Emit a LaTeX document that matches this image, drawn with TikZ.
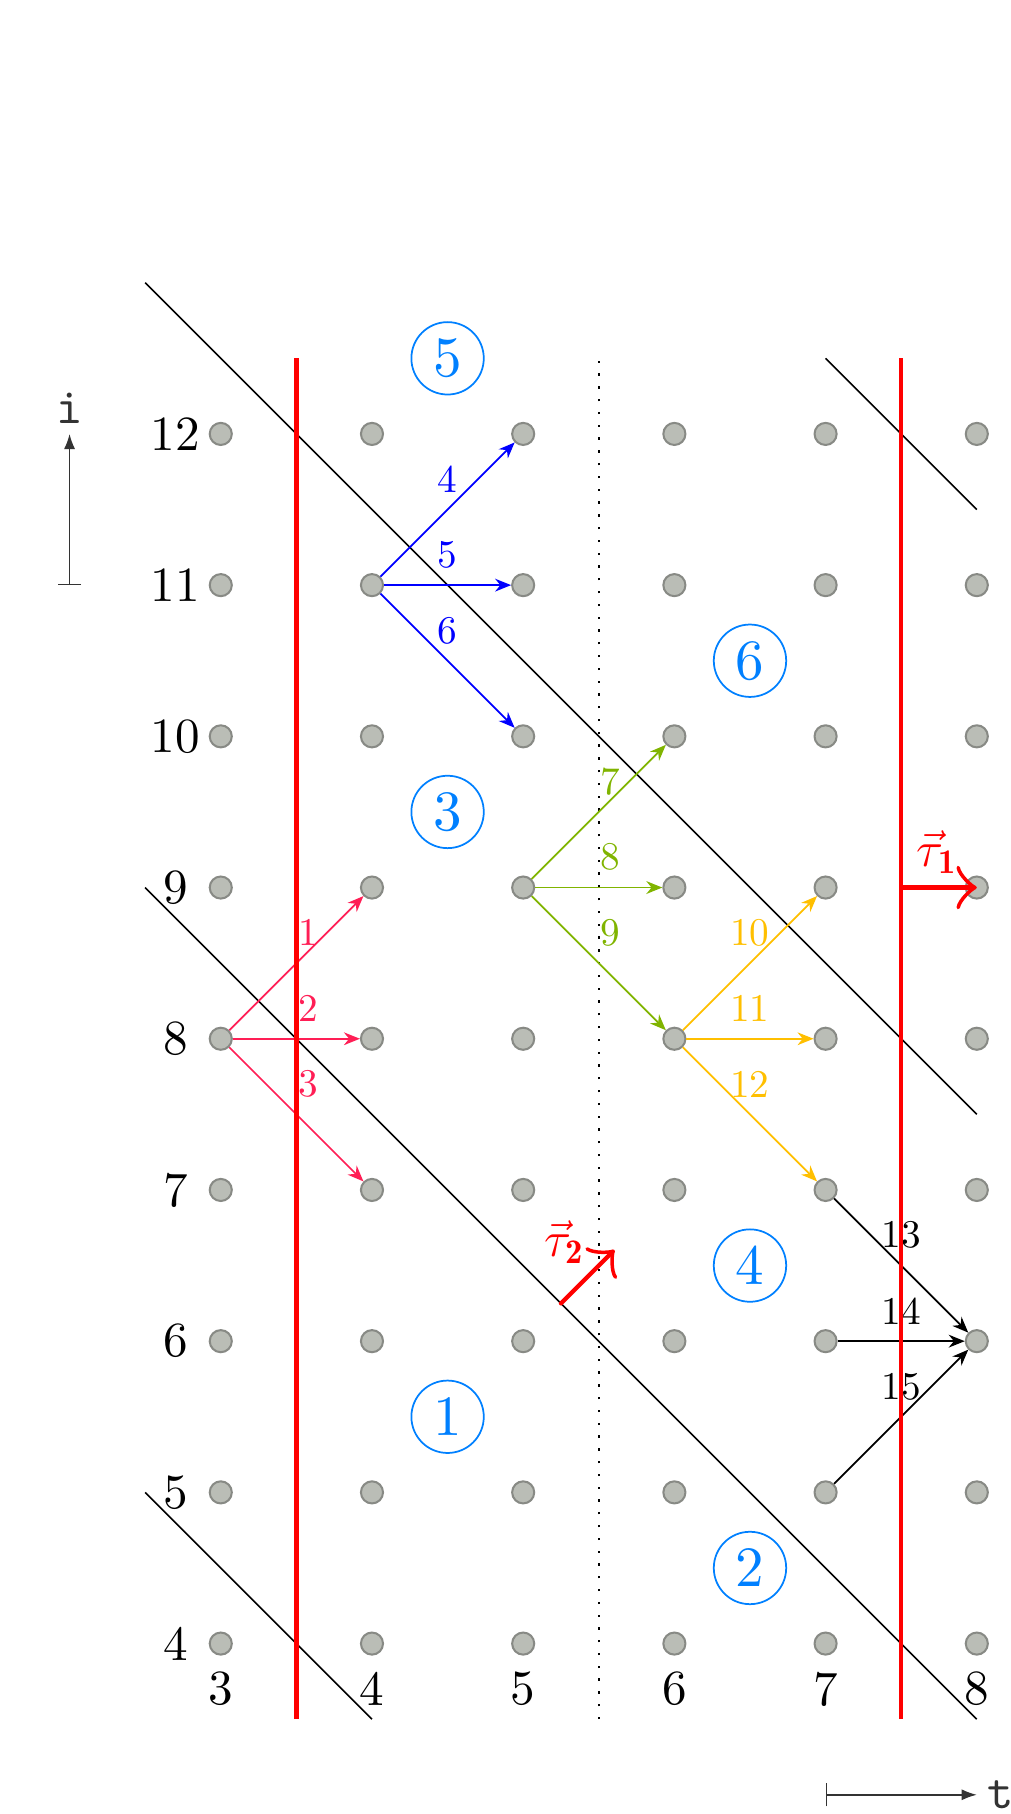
\documentclass[tikz,border=0pt]{standalone}
\usepackage{fontspec}
\newfontfamily\numfont{lmroman10-regular.otf}
\newfontfamily\monofont{lmmono10-regular.otf}
\usetikzlibrary{arrows.meta}
\definecolor{dotfill}{HTML}{BABDB6}
\definecolor{dotdraw}{HTML}{888A85}
\definecolor{regblue}{RGB}{0,128,255}
\definecolor{cred}{RGB}{255,30,85}
\definecolor{cgreen}{RGB}{128,180,0}
\definecolor{cyellow}{RGB}{255,191,0}
\begin{document}
\begin{tikzpicture}[x=52pt,y=52pt,
  dot/.style={circle, fill=dotfill, draw=dotdraw, line width=0.7pt, minimum size=7.6pt, inner sep=0pt},
  axnum/.style={font=\numfont\fontsize{16.9}{20}\selectfont, inner sep=0pt},
  axlab/.style={font=\monofont\fontsize{17.28}{20}\selectfont},
  region/.style={circle, draw=regblue, text=regblue, line width=0.6pt, minimum size=24.9pt, inner sep=0pt, font=\numfont\fontsize{19.6}{24}\selectfont},
  arr/.style={line width=0.6pt, -{Stealth[length=5.5pt,width=4.4pt]}},
  lbl/.style={midway, inner sep=0pt, yshift=10.4pt, font=\numfont\fontsize{13.5}{16}\selectfont},
  lblr/.style={lbl, xshift=4pt},
  wall/.style={red, line width=1.5pt},
  cut/.style={black, line width=0.55pt},
  sepline/.style={black, line width=0.8pt, dash pattern=on 0.8pt off 3.6pt},
  tau/.style={red, line width=1.5pt, line cap=round, -{Classical TikZ Rightarrow[length=7pt,width=15pt]}},
  taulbl/.style={red, inner sep=0pt, font=\fontsize{17}{20}\selectfont},
  axis/.style={black!80, line width=0.5pt, {Bar[width=8pt]}-{Latex[length=5.2pt,width=3.8pt]}},
]
\useasboundingbox (1.540,2.873) rectangle (8.220,14.870);

% cut lines
\coordinate (a1) at (2.5,13);  \coordinate (a2) at (8,7.5);
\coordinate (b1) at (2.5,9);   \coordinate (b2) at (8,3.5);
\coordinate (c1) at (2.5,5);   \coordinate (c2) at (4,3.5);
\coordinate (d1) at (7,12.5);  \coordinate (d2) at (8,11.5);
\draw[cut] (a1) -- (a2);
\draw[cut] (b1) -- (b2);
\draw[cut] (c1) -- (c2);
\draw[cut] (d1) -- (d2);

% dotted separator
\coordinate (s1) at (5.5,3.5); \coordinate (s2) at (5.5,12.5);
\draw[sepline] (s1) -- (s2);

% lattice points
\foreach \c in {3,...,8}
  \foreach \r in {4,...,12}
    \node[dot] (p\c-\r) at (\c,\r) {};

% axis numbers
\foreach \r in {4,...,12}
  \node[axnum] (row\r) at (2.70,\r) {\r};
\foreach \c in {3,...,8}
  \node[axnum] (col\c) at (\c,3.70) {\c};

% axis indicators
\coordinate (i0) at (2,11); \coordinate (i1) at (2,12);
\draw[axis] (i0) -- (i1) node[axlab, above] (ilab) {i};
\coordinate (t0) at (7,3); \coordinate (t1) at (8,3);
\draw[axis] (t0) -- (t1) node[axlab, right] (tlab) {t};

% dependence arrows
\draw[arr, cred] (p3-8) -- node[lblr, text=cred] (l1) {1} (p4-9);
\draw[arr, cred] (p3-8) -- node[lblr, text=cred] (l2) {2} (p4-8);
\draw[arr, cred] (p3-8) -- node[lblr, text=cred] (l3) {3} (p4-7);

\draw[arr, blue] (p4-11) -- node[lbl, text=blue] (l4) {4} (p5-12);
\draw[arr, blue] (p4-11) -- node[lbl, text=blue] (l5) {5} (p5-11);
\draw[arr, blue] (p4-11) -- node[lbl, text=blue] (l6) {6} (p5-10);

\draw[arr, cgreen] (p5-9) -- node[lblr, text=cgreen] (l7) {7} (p6-10);
\draw[arr, cgreen] (p5-9) -- node[lblr, text=cgreen] (l8) {8} (p6-9);
\draw[arr, cgreen] (p5-9) -- node[lblr, text=cgreen] (l9) {9} (p6-8);

\draw[arr, cyellow] (p6-8) -- node[lbl, text=cyellow] (l10) {10} (p7-9);
\draw[arr, cyellow] (p6-8) -- node[lbl, text=cyellow] (l11) {11} (p7-8);
\draw[arr, cyellow] (p6-8) -- node[lbl, text=cyellow] (l12) {12} (p7-7);

\draw[arr, black] (p7-7) -- node[lbl] (l13) {13} (p8-6);
\draw[arr, black] (p7-6) -- node[lbl] (l14) {14} (p8-6);
\draw[arr, black] (p7-5) -- node[lbl] (l15) {15} (p8-6);

% regions
\node[region] (r1) at (4.5,5.5) {1};
\node[region] (r2) at (6.5,4.5) {2};
\node[region] (r3) at (4.5,9.5) {3};
\node[region] (r4) at (6.5,6.5) {4};
\node[region] (r5) at (4.5,12.5) {5};
\node[region] (r6) at (6.5,10.5) {6};

% walls
\coordinate (w1a) at (3.5,3.5); \coordinate (w1b) at (3.5,12.5);
\coordinate (w2a) at (7.5,3.5); \coordinate (w2b) at (7.5,12.5);
\draw[wall] (w1a) -- (w1b);
\draw[wall] (w2a) -- (w2b);

% tau vectors
\coordinate (t1s) at (7.5,9); \coordinate (t1e) at (8,9);
\draw[tau] (t1s) -- (t1e);
\node[taulbl] (tau1) at (7.735,9.235) {$\vec{\tau}_{\mathbf{1}}$};
\coordinate (t2s) at (5.25,6.25); \coordinate (t2e) at (5.6036,6.6036);
\draw[tau] (t2s) -- (t2e);
\node[taulbl] (tau2) at (5.272,6.656) {$\vec{\tau}_{\mathbf{2}}$};
\end{tikzpicture}
\end{document}
